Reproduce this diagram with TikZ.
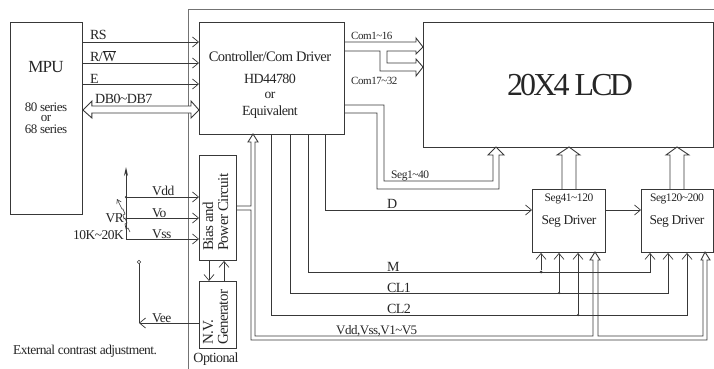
\documentclass[tikz,border=0pt]{standalone}
\usepackage{fontspec}
\setmainfont[LetterSpace=-4]{Liberation Serif}
\usetikzlibrary{arrows.meta,calc}
\definecolor{ln}{gray}{0.22}
\definecolor{fr}{gray}{0.45}
\definecolor{tx}{gray}{0.15}
\newcommand{\fs}[1]{\fontsize{#1}{#1}\selectfont}
\tikzset{
  box/.style={draw=ln,line width=0.9pt,anchor=north west,inner sep=0pt,minimum width=#1},
  wire/.style={draw=ln,line width=0.8pt},
  sig/.style={wire,-{Straight Barb[length=6pt,width=10pt,line width=0.7pt]}},
  hollow/.style={draw=ln,line width=0.9pt,fill=white,line join=miter},
  lab/.style={text=tx,inner sep=0pt},
  lbl/.style={lab,anchor=base west,font=\fs{#1}},
  lbl/.default=14,
  ctr/.style={lab,anchor=base,font=\fs{#1},align=center},
  ctr/.default=14,
  dot/.style={circle,fill=ln,inner sep=0pt,minimum size=3pt}
}
\begin{document}
\begin{tikzpicture}[x=1pt,y=-1pt]
\useasboundingbox (0,0) rectangle (714,369);
% frame
\coordinate (fa) at (188,369);
\coordinate (fb) at (188,9);
\coordinate (fc) at (714,9);
\draw[draw=fr,line width=0.9pt] (fa) -- (fb) -- (fc);
% boxes
\node[box=72pt,minimum height=192pt] (mpu) at (10,22) {};
\node[box=145pt,minimum height=112pt] (ctrl) at (199,22) {};
\node[box=290pt,minimum height=125pt] (lcd) at (423,22) {};
\node[box=37pt,minimum height=105pt] (bias) at (199,155) {};
\node[box=37pt,minimum height=67pt] (nv) at (199,281) {};
\node[box=73pt,minimum height=63pt] (s1) at (532,189) {};
\node[box=72pt,minimum height=63pt] (s2) at (641,189) {};
% box texts
\node[ctr=17] (tmpu) at (46,73) {MPU};
\node[ctr=13] (t80) at (46,111) {80 series};
\node[ctr=13] (tor) at (46,121) {or};
\node[ctr=13] (t68) at (46,133) {68 series};
\node[ctr=14.5] (tc1) at (270,62) {Controller/Com Driver};
\node[ctr=14] (tc2) at (270,83) {HD44780};
\node[ctr=13.5] (tc3) at (270,98) {or};
\node[ctr=14] (tc4) at (270,115) {Equivalent};
\node[ctr=32] (tl) at (570,95) {\addfontfeature{LetterSpace=-9}20X4 LCD};
\node[ctr=11.5] (ts1) at (569,201) {Seg41\textasciitilde120};
\node[ctr=11.5] (ts2) at (677,201) {Seg120\textasciitilde200};
\node[ctr=13.5] (td1) at (569,224) {Seg Driver};
\node[ctr=13.5] (td2) at (677,224) {Seg Driver};
\node[lab,font=\fs{15},rotate=90,anchor=west,align=left] (tb) at (215.5,251) {Bias and\\Power Circuit};
\node[lab,font=\fs{15},rotate=90,anchor=west,align=left] (tn) at (215.5,345) {N.V.\\Generator};
\node[ctr=14] (topt) at (216,362) {Optional};
\node[lbl=13.5] (text) at (13,354) {External contrast adjustment.};
% MPU to controller
\draw[sig] (mpu.east |- 0,42) -- (ctrl.west |- 0,42);
\draw[sig] (mpu.east |- 0,63) -- (ctrl.west |- 0,63);
\draw[sig] (mpu.east |- 0,84) -- (ctrl.west |- 0,84);
\path[hollow] (mpu.east |- 0,110) -- ++(9,-9) -- ++(0,5) -- ($(ctrl.west |- 0,106)+(-8,0)$) -- ++(0,-5) -- (ctrl.west |- 0,110) -- ++(-8,8) -- ++(0,-5) -- ($(mpu.east |- 0,113)+(9,0)$) -- ++(0,5) -- cycle;
\node[lbl] (lrs) at (90,40) {RS};
\node[lbl] (lrw) at (90,62) {R/$\overline{\mbox{W}}$};
\node[lbl] (le) at (90,83) {E};
\node[lbl] (ldb) at (95,103) {DB0\textasciitilde DB7};
% power rail and resistor
\coordinate (rt) at (126,167);
\coordinate (rb) at (126,239);
\coordinate (rm) at (126,218);
\coordinate (rd) at (126,197);
\draw[wire,-{Stealth[length=9pt,width=4pt,open]}] (rb) -- (rt);
\node[dot,minimum size=2.5pt] at (rd) {};
\draw[sig] (rd) -- (bias.west |- rd);
\draw[sig] (rm) -- (bias.west |- rm);
\draw[sig] (rb) -- (bias.west |- rb);
\coordinate (ra) at (130,232);
\coordinate (rz) at (117,199);
\draw[wire,line width=0.6pt,-{Straight Barb[length=4pt,width=5pt]}] (ra) -- ++(-2,-4) -- ++(-2,1) -- ++(-1,-5) -- ++(2,-1) -- ++(-2,-5) -- ++(-1,1) -- ++(-1,-4) -- ++(2,-1) -- ++(-2,-5) -- ++(-1,0) -- (rz);
\node[lbl=13.5] (lvdd) at (152,195) {Vdd};
\node[lbl=13.5] (lvo) at (152,217) {Vo};
\node[lbl=13.5] (lvss) at (152,238) {Vss};
\node[lab,anchor=base east,font=\fs{13.5}] (lvr) at (124,222) {VR};
\node[lab,anchor=base east,font=\fs{13.5}] (lk) at (124,239) {10K\textasciitilde 20K};
% Bias and NV
\draw[sig] (bias.south -| 209,0) -- (nv.north -| 209,0);
\draw[sig] (nv.north -| 224,0) -- (bias.south -| 224,0);
\coordinate (vt) at (139,262);
\coordinate (vc) at (139,323);
\draw[sig] (nv.west |- vc) -- (vc);
\draw[wire] (vc) -- (vt);
\node[circle,draw=ln,line width=0.6pt,fill=white,inner sep=0pt,minimum size=3.5pt] (vo) at (vt) {};
\node[lbl=13.5] (lvee) at (152,322) {Vee};
% Com
\coordinate (c1) at (416,42);
\path[hollow,fill=none] (ctrl.east |- 0,42) -- (c1) -- (416,38) -- (lcd.west |- 0,47) -- (416,54) -- (416,51) -- (387,51) -- (387,63) -- (416,63) -- (416,59) -- (lcd.west |- 0,67) -- (416,76) -- (416,71) -- (380,71) -- (380,51) -- (ctrl.east |- 0,51);
\node[lbl=11] (lc1) at (351,40) {Com1\textasciitilde 16};
\node[lbl=11] (lc2) at (351,84) {Com17\textasciitilde 32};
% Seg1~40
\path[hollow,fill=none] (ctrl.east |- 0,105) -- (384,105) -- (384,181) -- (493,181) -- (493,155) -- (488,155) -- (496,147) -- (504,155) -- (499,155) -- (499,189) -- (377,189) -- (377,113) -- (ctrl.east |- 0,113);
\node[lbl=11.5] (lseg) at (391,178) {Seg1\textasciitilde 40};
% Seg drivers to LCD
\path[hollow,fill=none] (562,189) -- (562,155) -- (557,155) -- (569,147) -- (580,155) -- (576,155) -- (576,189);
\path[hollow,fill=none] (670,189) -- (670,155) -- (666,155) -- (677,147) -- (689,155) -- (684,155) -- (684,189);
% D
\draw[sig] (ctrl.south -| 325,0) |- (s1.west |- 0,210);
\draw[sig] (s1.east |- 0,210) -- (s2.west |- 0,210);
\node[lbl] (ld) at (387,208) {D};
% M, CL1, CL2
\draw[sig] (ctrl.south -| 308,0) |- (650,272) -- (s2.south -| 650,0);
\draw[sig] (ctrl.south -| 290,0) |- (668,293) -- (s2.south -| 668,0);
\draw[sig] (ctrl.south -| 271,0) |- (687,315) -- (s2.south -| 687,0);
\node[dot] (jm) at (541,272) {};
\node[dot,minimum size=2.5pt] (j1) at (559,293) {};
\node[dot,minimum size=2.5pt] (j2) at (578,315) {};
\draw[sig] (jm) -- (s1.south -| jm);
\draw[sig] (j1) -- (s1.south -| j1);
\draw[sig] (j2) -- (s1.south -| j2);
\node[lbl] (lm) at (387,271) {M};
\node[lbl] (lcl1) at (387,292) {CL1};
\node[lbl] (lcl2) at (387,313) {CL2};
\node[lbl=13] (lv) at (336,334) {Vdd,Vss,V1\textasciitilde V5};
% Power to all
\path[hollow,fill=none] (bias.east |- 0,206) -- (251,206) -- (251,142) -- (248,142) -- (253,134) -- (258,142) -- (255,142) -- (255,336) -- (593,336) -- (593,260) -- (590,260) -- (595,252) -- (600,260) -- (598,260) -- (598,336) -- (703,336) -- (703,260) -- (701,260) -- (705,252) -- (710,260) -- (707,260) -- (707,340) -- (251,340) -- (251,210) -- (bias.east |- 0,210);
\end{tikzpicture}
\end{document}
